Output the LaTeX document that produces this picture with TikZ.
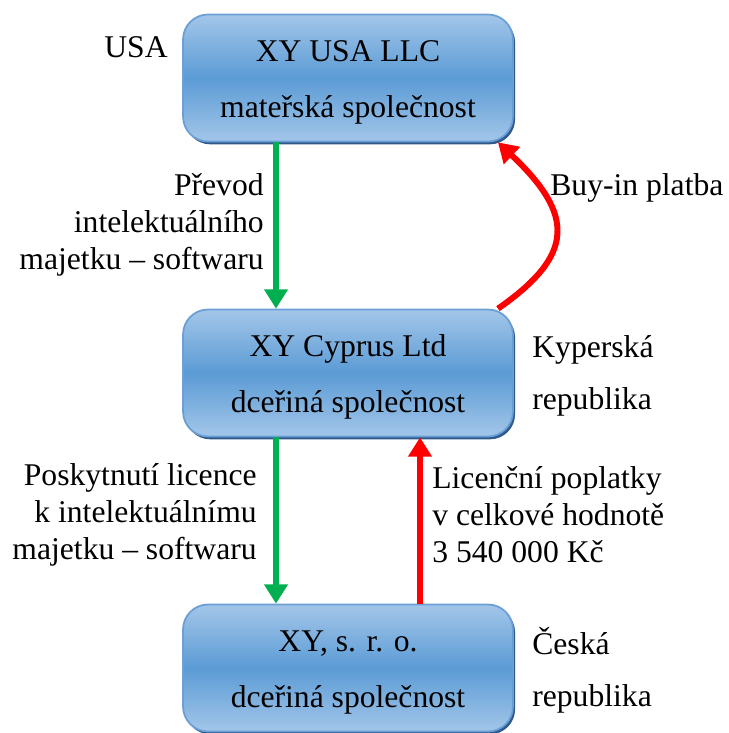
\documentclass[tikz,border=0pt]{standalone}
\usepackage{fontspec}
\setmainfont{Liberation Serif}
\usetikzlibrary{arrows.meta,shadows}
\definecolor{boxlight}{HTML}{A3C6E9}
\definecolor{boxmid}{HTML}{5B9BD5}
\definecolor{boxedge}{HTML}{6A9FD6}
\definecolor{boxshade}{HTML}{2E5A8C}
\definecolor{flowgreen}{HTML}{00B050}

\begin{document}
\begin{tikzpicture}[x=0.02cm,y=-0.02cm,font=\fontsize{18}{21}\selectfont,
    >={Triangle[length=11pt,width=13pt]}]
  \tikzstyle{firm}=[rectangle,rounded corners=0.5cm,draw=boxedge,line width=1pt,
    top color=boxlight,bottom color=boxlight,middle color=boxmid,
    minimum width=6.6cm,minimum height=2.54cm,align=center,text height=49pt,
    font=\fontsize{18}{32}\selectfont,
    drop shadow={shadow xshift=1.2pt,shadow yshift=-1.6pt,fill=boxshade,opacity=1}]
  \tikzstyle{note}=[inner sep=0pt]
  \tikzstyle{transfer}=[->,line width=3.4pt,draw=flowgreen]
  \tikzstyle{payment}=[->,line width=3.4pt,draw=red]

  \useasboundingbox (0,0) rectangle (728,733);

  \node[firm] (usa) at (348,78) {XY USA LLC\\mateřská společnost};
  \node[firm] (cyp) at (348,373) {XY Cyprus Ltd\\dceřiná společnost};
  \node[firm] (cz) at (348,668) {XY, s. r. o.\\dceřiná společnost};

  \node[note, anchor=west] (usaland) at (104,47) {USA};
  \node[note, anchor=west, align=left, font=\fontsize{18}{29.5}\selectfont] (cypland) at (532,376) {Kyperská\\republika};
  \node[note, anchor=west, align=left, font=\fontsize{18}{29.5}\selectfont] (czland) at (532,670) {Česká\\republika};

  \draw[transfer] ([xshift=-1.44cm]usa.south) -- ([xshift=-1.44cm]cyp.north);
  \node[note, anchor=east, align=right] (ipmove) at (264,225) {Převod\\intelektuálního\\majetku – softwaru};

  \draw[payment] ([xshift=3cm]cyp.north) .. controls (575,255) and (575,215) .. ([xshift=3cm]usa.south);
  \node[note, anchor=west] (buyin) at (550,188) {Buy-in platba};

  \draw[transfer] ([xshift=-1.44cm]cyp.south) -- ([xshift=-1.44cm]cz.north);
  \node[note, anchor=east, align=right] (licence) at (257,515) {Poskytnutí licence\\k intelektuálnímu\\majetku – softwaru};

  \draw[payment] ([xshift=1.44cm]cz.north) -- ([xshift=1.44cm]cyp.south);
  \node[note, anchor=west, align=left] (fees) at (432,515) {Licenční poplatky\\v celkové hodnotě\\3 540 000 Kč};
\end{tikzpicture}
\end{document}
